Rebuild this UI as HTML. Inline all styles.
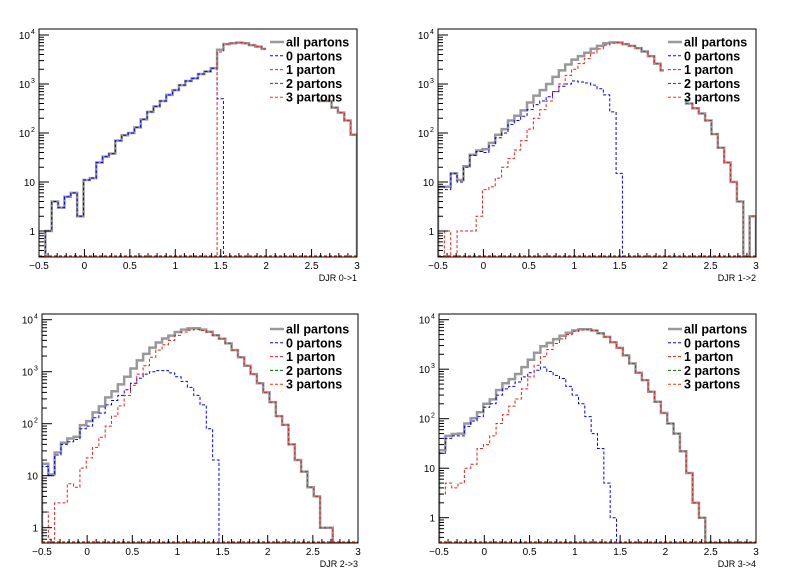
<!DOCTYPE html>
<html><head><meta charset="utf-8"><style>
body{margin:0;background:#fff}
svg{display:block;font-family:"Liberation Sans",sans-serif}
</style></head><body>
<svg id="c" width="796" height="572"></svg>
<script>
// 50 bins of width 0.07 from -0.5 to 3.0
const binLo = -0.5, binW = 0.07;
const xTickLabels = ["\u22120.5","0","0.5","1","1.5","2","2.5","3"];
const xTickValues = [-0.5,0,0.5,1,1.5,2,2.5,3];
const titles = ["DJR 0->1","DJR 1->2","DJR 2->3","DJR 3->4"];
const legendLabels = ["all partons","0 partons","1 parton","2 partons","3 partons"];
// 0 partons (blue)
const p0_a = [0,1,4,3,5,6,2,11,12,25,33,38,70,90,100,130,190,270,350,450,600,750,950,1150,1300,1600,1800,2100,500,0,0,0,0,0,0,0,0,0,0,0,0,0,0,0,0,0,0,0,0,0];
const p0_b = [8,7,15,10,20,35,42,40,55,80,100,150,180,220,300,380,450,550,700,900,1000,1150,1100,1050,950,800,600,270,15,0,0,0,0,0,0,0,0,0,0,0,0,0,0,0,0,0,0,0,0,0];
const p0_c = [15,10,25,40,45,50,80,90,130,160,230,280,350,450,600,750,900,1000,1050,1050,950,800,650,500,350,230,80,20,0,0,0,0,0,0,0,0,0,0,0,0,0,0,0,0,0,0,0,0,0,0];
const p0_d = [20,40,45,45,70,90,110,170,200,300,400,450,550,700,850,950,1100,900,750,650,450,300,200,110,50,25,5,1,0,0,0,0,0,0,0,0,0,0,0,0,0,0,0,0,0,0,0,0,0,0];
// 1 parton (red)
const p1_a = [0,0,0,0,0,0,0,0,0,0,0,0,0,0,0,0,0,0,0,0,0,0,0,0,0,0,0,0,4500,6500,6800,7000,6800,6200,5800,5200,4500,3700,3000,2300,1700,1200,800,550,450,450,330,260,180,92];
const p1_b = [0,1,0,1,1,1,2,7,8,12,20,30,45,70,120,200,300,450,700,1000,1500,2000,2600,3300,4300,5200,6200,6800,7000,6500,6000,5400,4600,3700,2600,1900,1400,900,600,400,320,250,180,95,50,25,10,4,0,2];
const p1_c = [2,0.6,3,3,7,6,14,22,35,55,90,140,220,350,550,900,1300,1900,2600,3300,4000,5000,5800,6300,6500,6200,5800,5000,4300,3500,2600,1900,1300,900,600,400,260,140,95,40,20,12,6,4,1,1,0,0,0,0];
const p1_d = [3,5,4,5,10,12,25,30,45,80,120,180,250,400,700,1200,1800,2500,3300,4100,5000,5800,6200,6300,6000,5300,4500,3500,2700,1900,1300,850,600,350,220,130,80,50,22,8,2,1,0,0,0,0,0,0,0,0];
const p0 = [p0_a,p0_b,p0_c,p0_d];
const p1 = [p1_a,p1_b,p1_c,p1_d];

const panels = [
 {x0:39,x1:357,yTop:29,yBot:257,yOne:231,dec:49,lx:270,ly:42},
 {x0:438,x1:756,yTop:29,yBot:257,yOne:231,dec:49,lx:668,ly:42},
 {x0:42,x1:358,yTop:314,yBot:543,yOne:527.7,dec:52,lx:270,ly:329},
 {x0:439,x1:756,yTop:314,yBot:543,yOne:517.7,dec:49.5,lx:668,ly:329}
];
const NS="http://www.w3.org/2000/svg";
const svg=document.getElementById('c');
function mk(tag,attrs,parent){const e=document.createElementNS(NS,tag);for(const k in attrs)e.setAttribute(k,attrs[k]);(parent||svg).appendChild(e);return e;}

panels.forEach((P,pi)=>{
  const g=mk('g',{});
  
  
  const xs=v=>P.x0+(v-binLo)/3.5*(P.x1-P.x0);
  const ys=v=>{ if(v<=0) return P.yBot; const y=P.yOne-Math.log10(v)*P.dec; return Math.min(y,P.yBot);};
  const cid='clip'+pi;
  const cp=mk('clipPath',{id:cid},g);
  mk('rect',{x:P.x0,y:P.yTop,width:P.x1-P.x0,height:P.yBot-P.yTop},cp);
  function hist(arr,stroke,w,dash,name){
    let d='M'+xs(binLo)+','+P.yBot;
    arr.forEach((v,i)=>{const y=ys(v);d+=' L'+xs(binLo+i*binW)+','+y+' L'+xs(binLo+(i+1)*binW)+','+y;});
    d+=' L'+xs(3)+','+P.yBot;
    const p=mk('path',{d:d,fill:'none',stroke:stroke,'stroke-width':w,'clip-path':'url(#'+cid+')'},g);
    if(dash)p.setAttribute('stroke-dasharray',dash);
    
    
  }
  const all=p0[pi].map((v,i)=>v+p1[pi][i]);
  hist(all,'#999',2.5,null,'all-partons-hist');
  hist(p0[pi],'#0000ff',1,'3,2','zero-partons-hist');
  hist(p1[pi],'#dd2222',1,'3,2','one-parton-hist');
  const z=mk('line',{x1:P.x0,x2:P.x1,y1:P.yBot-1,y2:P.yBot-1,stroke:'#ff3300','stroke-width':1.5,'stroke-dasharray':'3,2'},g);
  
  
  // frame
  const fr=mk('rect',{x:P.x0,y:P.yTop,width:P.x1-P.x0,height:P.yBot-P.yTop,fill:'none',stroke:'#000','stroke-width':1},g);
  
  
  // x ticks
  for(let k=0;k<=35;k++){const v=-0.5+k*0.1;const x=xs(v);const len=(k%5===0)?8:4;
    mk('line',{x1:x,x2:x,y1:P.yBot,y2:P.yBot-len,stroke:'#000','stroke-width':1},g);}
  xTickValues.forEach((v,i)=>{const t=mk('text',{x:xs(v),y:P.yBot+12,'font-size':10,'text-anchor':'middle'},g);t.textContent=xTickLabels[i];
    });
  const xt=mk('text',{x:P.x1,y:P.yBot+24,'font-size':9,'text-anchor':'end'},g);xt.textContent=titles[pi];
  
  // y ticks
  for(let d=-1;d<=4;d++){for(let m=1;m<=9;m++){const v=m*Math.pow(10,d);const y=ys(v);if(y>=P.yBot||y<P.yTop)continue;
    const len=m===1?10:5;mk('line',{x1:P.x0,x2:P.x0+len,y1:y,y2:y,stroke:'#000','stroke-width':1},g);}}
  [[1,'1',''],[10,'10',''],[100,'10','2'],[1000,'10','3'],[10000,'10','4']].forEach(a=>{
    const y=ys(a[0]);const t=mk('text',{x:P.x0-(a[2]?9:4),y:y+4,'font-size':10,'text-anchor':'end'},g);t.textContent=a[1];
    
    if(a[2]){const s=mk('text',{x:P.x0-8,y:y-1,'font-size':7},g);s.textContent=a[2];
      }
  });
  // legend
  const lg=mk('g',{},g);
  
  
  mk('rect',{x:P.lx-4,y:P.ly-11,width:P.x1-P.lx+3,height:68,fill:'#fff'},lg);
  const cols=['#999','#0000ff','#dd2222','#006600','#ff3300'];
  legendLabels.forEach((lab,i)=>{const y=P.ly+i*13.8;
    const ln=mk('line',{x1:P.lx,x2:P.lx+14,y1:y,y2:y,stroke:cols[i],'stroke-width':i===0?2.5:1},lg);
    if(i>0)ln.setAttribute('stroke-dasharray','3,2');
    const t=mk('text',{x:P.lx+16,y:y+4.5,'font-size':12.5,'font-weight':'bold'},lg);t.textContent=lab;
    });
});
</script>
</body></html>
